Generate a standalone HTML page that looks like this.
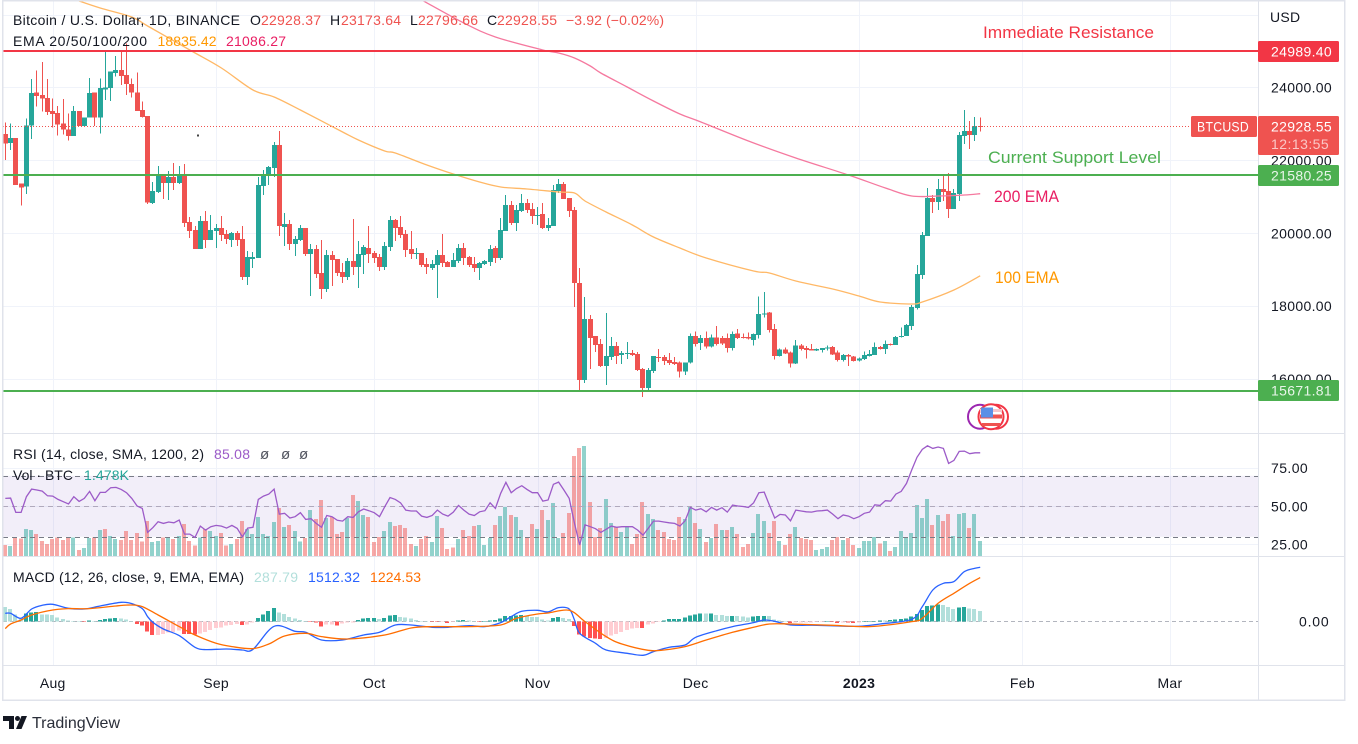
<!DOCTYPE html>
<html lang="en">
<head>
<meta charset="utf-8">
<title>BTCUSD chart</title>
<style>
html,body{margin:0;padding:0;background:#fff;width:1358px;height:744px;overflow:hidden}
svg{display:block;font-family:"Liberation Sans",sans-serif}
text{font-family:"Liberation Sans",sans-serif;fill:#131722;font-size:14px}
.lg{font-size:14px}
.ax{font-size:14px;fill:#131722;letter-spacing:.3px}
.note{font-size:17px}
</style>
</head>
<body>
<svg id="chart" xmlns="http://www.w3.org/2000/svg" width="1358" height="744" viewBox="0 0 1358 744">
  <defs>
    <clipPath id="clip-price"><rect x="3" y="1" width="1255" height="432"/></clipPath>
    <clipPath id="clip-rsi"><rect x="3" y="434" width="1255" height="122"/></clipPath>
    <clipPath id="clip-macd"><rect x="3" y="557" width="1255" height="108"/></clipPath>
  </defs>
  <g id="grid"></g>
  <g id="rsi-pane" clip-path="url(#clip-rsi)"></g>
  <g id="macd-pane" clip-path="url(#clip-macd)"></g>
  <g id="price-pane" clip-path="url(#clip-price)"></g>
  <rect x="197" y="134.5" width="2" height="2" fill="#444"/>

  <g fill="#e0e3eb">
    <rect x="2" y="0" width="1343" height="1.5"/>
    <rect x="2" y="0" width="1.5" height="701"/>
    <rect x="2" y="699.5" width="1343" height="1.5"/>
    <rect x="1344" y="0" width="1.5" height="701"/>
    <rect x="1258" y="0" width="1" height="700"/>
    <rect x="3" y="433" width="1341" height="1"/>
    <rect x="3" y="556" width="1341" height="1"/>
    <rect x="3" y="665" width="1341" height="1"/>
  </g>

  <g>
    <text class="lg" x="13" y="25" textLength="227">Bitcoin / U.S. Dollar, 1D, BINANCE</text>
    <text class="lg" x="250" y="25">O</text>
    <text class="lg" x="261" y="25" textLength="60" style="fill:#ef5350">22928.37</text>
    <text class="lg" x="330" y="25">H</text>
    <text class="lg" x="341" y="25" textLength="60" style="fill:#ef5350">23173.64</text>
    <text class="lg" x="410" y="25">L</text>
    <text class="lg" x="418" y="25" textLength="60" style="fill:#ef5350">22796.66</text>
    <text class="lg" x="487" y="25">C</text>
    <text class="lg" x="497" y="25" textLength="60" style="fill:#ef5350">22928.55</text>
    <text class="lg" x="566" y="25" textLength="98" style="fill:#ef5350">−3.92 (−0.02%)</text>
    <text class="lg" x="13" y="46" textLength="134">EMA 20/50/100/200</text>
    <text class="lg" x="157.5" y="46" textLength="59" style="fill:#ff9800">18835.42</text>
    <text class="lg" x="226" y="46" textLength="60" style="fill:#e91e63">21086.27</text>
  </g>

  <g>
    <text class="lg" x="13" y="459" textLength="191">RSI (14, close, SMA, 1200, 2)</text>
    <text class="lg" x="214" y="459" textLength="36" style="fill:#9c5bc8">85.08</text>
    <text class="lg" x="260" y="459" style="fill:#50535e;font-size:15px">ø</text>
    <text class="lg" x="281" y="459" style="fill:#50535e;font-size:15px">ø</text>
    <text class="lg" x="299" y="459" style="fill:#50535e;font-size:15px">ø</text>
    <text class="lg" x="13" y="480" textLength="60">Vol · BTC</text>
    <text class="lg" x="84" y="480" textLength="45" style="fill:#26a69a">1.478K</text>
  </g>

  <g>
    <text class="lg" x="13" y="582" textLength="231">MACD (12, 26, close, 9, EMA, EMA)</text>
    <text class="lg" x="254" y="582" textLength="44" style="fill:#b2dfdb">287.79</text>
    <text class="lg" x="308" y="582" textLength="52" style="fill:#2962ff">1512.32</text>
    <text class="lg" x="370" y="582" textLength="51" style="fill:#ff6d00">1224.53</text>
  </g>

  <g id="axes"></g>
  <text class="ax" x="1270" y="22">USD</text>

  <g>
    <text class="note" x="983" y="38" textLength="171" lengthAdjust="spacingAndGlyphs" style="fill:#f23645">Immediate Resistance</text>
    <text class="note" x="988" y="163" textLength="173" lengthAdjust="spacingAndGlyphs" style="fill:#4caf50">Current Support Level</text>
    <text class="note" x="994" y="202" textLength="65" lengthAdjust="spacingAndGlyphs" style="fill:#e91e63">200 EMA</text>
    <text class="note" x="995" y="283" textLength="64" lengthAdjust="spacingAndGlyphs" style="fill:#ff9800">100 EMA</text>
  </g>

  <g>
    <rect x="1258" y="41" width="81" height="21" rx="1.5" fill="#f23645"/>
    <text class="ax" x="1271" y="56.5" textLength="61" style="fill:#fff">24989.40</text>
    <rect x="1191" y="116" width="66" height="21" rx="1.5" fill="#ef5350"/>
    <text class="ax" x="1197" y="131.5" textLength="52" lengthAdjust="spacingAndGlyphs" style="fill:#fff">BTCUSD</text>
    <rect x="1258" y="116" width="81" height="39" rx="1.5" fill="#ef5350"/>
    <text class="ax" x="1271" y="131.5" textLength="61" style="fill:#fff">22928.55</text>
    <text class="ax" x="1271" y="149" textLength="58" style="fill:#fbc7c6">12:13:55</text>
    <rect x="1258" y="165" width="81" height="21" rx="1.5" fill="#4caf50"/>
    <text class="ax" x="1271" y="180.5" textLength="61" style="fill:#e8f5e9">21580.25</text>
    <rect x="1258" y="380" width="81" height="21" rx="1.5" fill="#4caf50"/>
    <text class="ax" x="1271" y="395.5" textLength="61" style="fill:#e8f5e9">15671.81</text>
  </g>

  <g>
    <circle cx="980" cy="416.7" r="12" fill="#fff" stroke="#9c27b0" stroke-width="2"/>
    <circle cx="996" cy="416.7" r="12" fill="#fff" stroke="#f23645" stroke-width="2"/>
    <circle cx="991" cy="416.7" r="12.5" fill="#fff" stroke="#f23645" stroke-width="2"/>
    <rect x="980" y="409" width="22" height="3" fill="#f7c6ca"/>
    <rect x="980" y="414.5" width="22" height="4" fill="#ef5350"/>
    <rect x="982" y="423" width="18" height="3" fill="#ef5350"/>
    <rect x="981" y="407.5" width="12" height="10" fill="#5b8fe6"/>
  </g>

  <g>
    <path d="M3 716h11v13h-5v-8H3z" fill="#131722"/>
    <circle cx="17.5" cy="718.5" r="2.5" fill="#131722"/>
    <path d="M21.5 716H27l-5.5 13H16z" fill="#131722"/>
    <text x="32" y="728" textLength="88" style="font-size:16px;fill:#2a2e39">TradingView</text>
  </g>
</svg>

<script>
const opens = [22725,22478,22615,21371,21280,22962,23867,23794,23712,23355,
23300,23017,22853,22670,23355,22944,23182,23867,23173,23950,
23986,24398,24480,24343,24096,23858,23383,23218,20832,21133,
21572,21380,21545,21380,21572,20310,20091,19570,20338,19817,
20064,20146,19981,19817,20009,19844,18802,19295,19323,21298,
21600,21792,22422,20173,20255,19707,19817,20146,19433,19570,
18911,18473,19405,19295,18939,18802,19240,19076,19405,19597,
19460,19350,19076,19625,20365,20173,19981,19570,19432,19460,
19158,19049,19131,19405,19213,19076,19240,19597,19350,19158,
19049,19158,19213,19597,19323,20063,20776,20283,20612,20831,
20667,20475,20530,20146,20200,21161,21353,20968,20639,18637,
15976,17650,17183,16964,16360,16607,16909,16662,16690,16717,
16690,16278,15757,16223,16607,16607,16525,16470,16452,16205,
16452,17184,16991,17129,16891,17147,17129,17129,16855,17257,
17156,17156,17074,17211,17787,17824,17376,16635,16818,16736,
16434,16928,16855,16827,16781,16800,16846,16882,16736,16526,
16663,16626,16507,16553,16635,16663,16882,16827,16964,16937,
17156,17184,17458,17952,18857,19927,20969,20859,21216,21161,
20667,21079,22670,22807,22697,22940];
const highs = [23035,23017,22615,21371,23154,24233,24462,24699,24233,23703,
23493,23684,23291,23493,23355,23182,24260,23867,24251,24983,
24443,24864,25029,25211,24251,24416,23611,23218,21408,21846,
21572,21709,21929,21846,21901,20447,20201,20475,20612,20502,
20255,20475,20091,20036,20064,20201,19515,19487,21545,21737,
21846,22505,22806,20557,20365,19926,20228,20146,19707,19680,
19817,19542,19515,19295,19186,19323,20392,19789,19679,20200,
19515,19432,19762,20475,20392,20475,20091,20063,19597,19460,
19323,19268,19542,19981,19240,19460,19707,19734,19378,19350,
19213,19268,19679,19652,20420,21051,20886,20776,21078,20941,
20831,20722,20831,20420,21325,21490,21407,20968,20722,19048,
18253,17759,17183,17101,17814,17156,17019,16772,17019,16799,
16744,16305,16305,16635,16827,16662,16717,16607,16480,16461,
17257,17303,17211,17303,17230,17458,17184,17257,17303,17376,
17257,17284,17257,18263,18390,17842,17513,16846,16873,16754,
17074,16964,16910,16964,16846,16855,16928,16910,16782,16690,
16690,16635,16599,16754,16800,17010,16910,17056,16983,17184,
17421,17513,18034,19131,20036,21243,21051,21490,21627,21655,
21216,22779,23383,23081,23191,23173.64];
const lows = [22011,22286,21326,20759,21079,22587,23474,23337,23246,22907,
22679,22715,22542,22670,22944,22944,23182,22944,22743,23657,
23630,24297,24069,23794,23721,23355,23182,20804,20804,21106,
20941,20914,21188,21353,20173,19872,19570,19570,19597,19817,
19597,19789,19707,19625,19652,18720,18582,19049,19323,21051,
21325,21545,19926,19652,19542,19378,19789,19378,18281,18774,
18198,18390,18555,18829,18637,18720,18857,18500,18884,19186,
19186,18966,18994,19515,19789,19871,19350,19295,19295,19076,
18884,18994,18226,19076,19076,19076,19186,19131,19076,18939,
18719,19131,19103,19186,19268,20063,20228,20063,20585,20557,
20255,20228,20118,20063,20200,21106,20941,20447,17979,15702,
15894,16278,16744,16333,15839,16525,16415,16415,16552,16635,
16223,15510,15647,16168,16470,16388,16388,16388,16041,16114,
16434,16891,16800,16845,16873,16919,16937,16727,16781,17101,
17110,17092,16919,17120,17696,17284,16544,16617,16690,16315,
16416,16781,16571,16781,16772,16727,16781,16663,16480,16489,
16361,16480,16480,16526,16617,16663,16818,16690,16928,16937,
17147,17184,17348,17915,18747,19927,20557,20640,20887,20420,
20667,20887,22450,22313,22532,22796.66];
const closes = [22459,22615,21326,21253,22962,23849,23767,23694,23328,23273,
22980,22843,22670,23355,22944,23182,23849,23173,23986,24004,
24443,24480,24315,24096,23858,23355,23191,20841,21161,21572,
21380,21545,21380,21572,20283,20064,19570,20338,19817,20091,
20146,19954,19844,20009,19817,18802,19350,19350,21325,21627,
21819,22422,20201,20255,19707,19844,20146,19433,19570,18884,
18473,19405,19268,18911,18802,19241,19076,19432,19625,19432,
19323,19076,19652,20365,20146,19954,19542,19432,19460,19131,
19076,19158,19405,19186,19076,19268,19597,19323,19131,19049,
19186,19240,19570,19323,20091,20776,20283,20639,20831,20639,
20475,20502,20146,20228,21188,21353,20941,20612,18637,15976,
17650,17128,16936,16360,16635,16909,16635,16717,16717,16662,
16251,15757,16251,16635,16580,16498,16443,16415,16205,16461,
17184,16964,17129,16891,17147,16964,16983,16855,17239,17129,
17129,17110,17239,17787,17805,17348,16635,16818,16708,16434,
16928,16827,16800,16781,16827,16855,16873,16681,16526,16663,
16626,16498,16571,16663,16690,16882,16827,16964,16937,17156,
17184,17485,17979,18884,19954,20969,20859,21216,21134,20667,
21106,22697,22807,22697,22944,22928.55];

const ema100Days = [14,18,24,27,35,41,47,51,56,64,67,72,74,80,85,90,94,99,105,108,110,114,119,123,128,133,142,145,150,157,162,166,172,174,180,185];
const ema100Values = [26373,26181,25934,25687,25029,24535,23931,23739,23383,22779,22560,22258,22203,21874,21627,21408,21271,21216,21133,21106,20887,20585,20228,19899,19597,19323,18967,18912,18692,18473,18281,18116,18061,18116,18445,18835.42];
const ema200Days = [79,87,93,102,105,108,111,113,118,123,128,132,141,150,160,167,172,177,182,185];
const ema200Values = [26400,25769,25385,25029,24946,24809,24590,24398,24014,23630,23273,23054,22532,22066,21600,21243,21024,21024,21051,21086.27];

const levelPrices = [24989.40,21580.25,15671.81];
const levelColors = ['#f23645','#4caf50','#4caf50'];
const levelNames = ['resistance-line','support-line','low-support-line'];
const lastPrice = 22928.55;

const priceTicks = [24000,22000,20000,18000,16000];
const priceTickLabels = ['24000.00','22000.00','20000.00','18000.00','16000.00'];
const priceExtraGrid = [26000];
const rsiTicks = [75,50,25];
const rsiTickLabels = ['75.00','50.00','25.00'];
const rsiBands = [70,50,30];
const macdTicks = [0];
const macdTickLabels = ['0.00'];
const timeTickDays = [9,40,70,101,131,162,193,221];
const timeTickLabels = ['Aug','Sep','Oct','Nov','Dec','2023','Feb','Mar'];

const rsiValues = [55.2,55.4,46,46,56.3,61.3,60.7,60,56.9,56.7,
54.5,53,51.5,56.3,53.2,55.2,59.8,53.7,59.1,59.1,
62.2,62.4,61.1,58.9,55.2,50.2,48.6,32.9,36,39.9,
38.8,39.7,39.2,41,31.8,31.8,29.6,37,34.4,36.6,
37.5,37,35.7,37.5,35.5,30,35.7,36.2,54.5,56.7,
58,61.3,44.9,45.4,42.3,43.2,45.8,41.4,41.9,38.8,
36.2,44,43.2,40.8,40.3,43.2,42.7,46.4,48.2,47.1,
45.8,43.2,49.7,55.8,54.5,52.3,47.5,46.9,46.9,43.6,
42.7,44,47.5,44.9,43.6,46.2,50.6,47.5,44.9,44,
46.4,47.1,52.3,48.6,58.5,65.7,58.9,61.7,63.5,61.1,
58.9,58.9,53.4,54.1,64.4,65.9,60.7,55.2,38.8,24.6,
37.9,36.6,35.3,32.9,34.9,37,36.2,36.6,36.6,36.6,
34.4,31.1,35.5,40.3,40.3,39.7,39.2,38.8,37,40.5,
49.3,47.5,48.4,46.4,49.3,47.5,49.1,46.2,50.8,50.2,
49.9,49.3,52.3,58.9,59.3,50.8,42.3,44.7,44.3,40.5,
47.5,46.9,46.4,46.2,46.9,47.1,47.5,44.9,41.9,44.3,
43.6,41.9,43.2,45.4,46.2,51,50.6,53.7,53.4,58,
59.8,65,73.8,82.1,87.3,89.7,88,88.9,88,78.1,
80.1,86,86.2,84.5,85.1,85.08];

const volumeValues = [1089,990,1848,1716,2673,2574,2178,1485,1188,1683,
1848,1584,1848,1848,594,792,1782,1848,2574,2673,
1980,1683,1584,2475,1584,2277,1419,3465,1386,1485,
1848,1848,1683,1980,3168,1485,1023,1848,2673,2475,
1980,2277,1023,1188,1683,3465,2673,2178,3861,2178,
1980,3366,4752,2871,3069,2475,1419,1782,4554,3663,
5544,3762,3861,2178,2376,3762,6039,5445,4059,3861,
1386,1881,2475,3366,2970,3069,2772,1188,990,1683,
1980,1386,3960,2772,693,858,1683,2574,1980,2970,
3069,1089,1782,3069,3960,4851,4059,3861,2574,1782,
3168,2673,4554,3564,5247,1782,2277,4257,9900,10692,
10890,5346,1881,2772,5643,3267,2871,2376,2871,1188,
2178,5346,4158,3663,2574,2376,1683,1584,3861,3663,
4950,3267,2673,1386,1782,3168,2574,2574,2871,2178,
891,1188,2277,4158,3465,2277,3465,1485,1089,2178,
2871,1782,1683,1584,594,693,891,1584,1881,1584,
1782,1089,792,1485,1485,1881,1254,1485,495,891,
2475,1881,2277,5049,3762,5643,3069,4059,3465,4158,
1980,4158,4257,2772,4158,1478];
const volumeDirections = ['rgrrggrrrr','rrrgrggrgr','ggrrrrrrgg','rgrgrrrgrg','grrgrrgggg',
'ggrgrggrgr','rgrrrgrggr','rrggrrrrgr','rggrrrgrrr','gggrggrggr',
'rgrgggrrrr','grrrggrggr','rrggrrrrrg','grgrgrgrgr','rrgggrrgrr',
'grrrgggrrg','rrggggrgrg','ggggggrgrr','gggrgg'].join('');

const macdDays = [0,1,3,5,7,9,12,15,18,22,24,26,27,28,30,33,36,38,42,45,47,51,55,57,60,64,68,71,74,77,81,84,88,91,94,96,98,101,103,105,107,108,109,112,114,118,121,123,126,129,131,135,138,142,144,146,149,154,158,162,166,172,174,176,178,180,182,184,185];
const macdValues = [224,224,84,346,448,476,364,346,430,532,495,355,131,-28,-215,-402,-729,-794,-775,-803,-785,-140,-280,-308,-523,-523,-383,-308,-103,-103,-168,-168,-121,-149,-37,131,280,308,262,383,346,37,-336,-616,-803,-897,-953,-850,-729,-663,-448,-262,-149,-37,37,0,-103,-112,-131,-140,-75,56,411,878,1065,1111,1392,1485,1512.32];
const signalDays = [0,1,3,5,9,12,16,21,24,26,29,33,36,40,43,47,50,53,57,60,65,72,77,81,88,94,97,101,103,107,110,114,117,122,125,129,133,138,142,145,149,157,164,172,174,177,180,183,185];
const signalValues = [-205,-75,37,177,318,355,355,430,458,411,177,-149,-383,-616,-710,-766,-635,-411,-336,-430,-495,-383,-187,-149,-149,-103,84,205,233,308,-9,-430,-635,-813,-803,-710,-523,-308,-168,-75,-75,-112,-149,-9,84,504,785,1065,1224.53];
const histValues = [402,346,196,103,224,252,262,196,196,177,
112,65,19,9,0,-19,28,9,37,65,
84,93,84,56,0,-75,-121,-290,-383,-383,
-355,-318,-299,-262,-355,-360,-365,-336,-299,-243,
-187,-168,-121,-103,-75,-103,-84,-37,93,196,
290,374,252,205,121,75,37,9,-19,-37,
-149,-93,-90,-112,-56,-37,-28,37,75,93,
95,65,93,159,177,121,103,75,37,9,
0,-9,-12,-9,-47,-9,19,37,19,0,
-19,0,28,30,84,149,151,159,177,149,
121,119,56,28,93,121,93,65,-131,-374,
-430,-467,-486,-495,-467,-392,-355,-299,-243,-196,
-187,-190,-93,-65,-9,19,65,67,70,103,
159,196,215,213,216,177,175,149,152,149,
131,112,131,149,151,149,56,19,0,-47,
-37,-35,-33,-30,-19,-9,0,-19,-47,-28,
-37,-47,-37,0,5,9,28,26,30,56,
58,75,131,205,318,430,448,467,458,402,
346,392,395,364,346,287.79];

const NS = 'http://www.w3.org/2000/svg';
const xDay = d => 5.3 + 5.27 * d;
const yPrice = p => (26400 - p) / 27.43;
const yRsi = r => 506.3 - (r - 50) * 1.525;
const yVolume = v => 556 - v / 99;
const yMacd = v => 621.3 - v / 28.02;

const gridG = document.getElementById('grid');
const priceG = document.getElementById('price-pane');
const rsiG = document.getElementById('rsi-pane');
const macdG = document.getElementById('macd-pane');
const axesG = document.getElementById('axes');

function mk(tag, parent, attrs) {
  const e = document.createElementNS(NS, tag);
  for (const k in attrs) e.setAttribute(k, attrs[k]);
  parent.appendChild(e);
  return e;
}

// vertical and horizontal grid
timeTickDays.forEach((d, i) => {
  const line = mk('rect', gridG, {x: Math.round(xDay(d)), y: 1, width: 1, height: 664, fill: '#f0f3fa'});
  
  
  const label = mk('text', axesG, {x: xDay(d), y: 688, 'text-anchor': 'middle', class: 'ax'});
  
  
  label.textContent = timeTickLabels[i];
  if (timeTickLabels[i] === '2023') label.setAttribute('font-weight', 'bold');
});
priceExtraGrid.concat(priceTicks).forEach(p => {
  const line = mk('rect', gridG, {x: 3, y: Math.round(yPrice(p)), width: 1255, height: 1, fill: '#f0f3fa'});
  
  
});
priceTicks.forEach((p, i) => {
  const label = mk('text', axesG, {x: 1271, y: yPrice(p) + 5, class: 'ax', textLength: 61});
  
  
  label.textContent = priceTickLabels[i];
});
rsiTicks.forEach((r, i) => {
  const line = mk('rect', gridG, {x: 3, y: Math.round(yRsi(r)), width: 1255, height: 1, fill: '#f0f3fa'});
  
  
  const label = mk('text', axesG, {x: 1271, y: yRsi(r) + 5, class: 'ax', textLength: 37});
  
  
  label.textContent = rsiTickLabels[i];
});
macdTicks.forEach((m, i) => {
  const line = mk('line', macdG, {x1: 3, x2: 1258, y1: Math.round(yMacd(m)) + .5, y2: Math.round(yMacd(m)) + .5, stroke: '#b2b5be', 'stroke-width': 1, 'stroke-dasharray': '4 3'});
  
  
  const label = mk('text', axesG, {x: 1299, y: yMacd(m) + 5, class: 'ax', textLength: 30});
  
  
  label.textContent = macdTickLabels[i];
});

// candles
closes.forEach((c, i) => {
  const col = c >= opens[i] ? '#26a69a' : '#ef5350';
  const cx = Math.floor(xDay(i));
  const wick = mk('rect', priceG, {x: cx, y: yPrice(highs[i]), width: 1, height: Math.max(1, yPrice(lows[i]) - yPrice(highs[i])), fill: col, 'shape-rendering': 'crispEdges'});
  
  
  const top = Math.min(yPrice(opens[i]), yPrice(c));
  const h = Math.abs(yPrice(opens[i]) - yPrice(c));
  const body = mk('rect', priceG, {x: cx - 2, y: top, width: 5, height: Math.max(1, h), fill: col, 'shape-rendering': 'crispEdges'});
  
  
});

// smooth curve through the read values (Catmull-Rom)
function smoothPath(days, values, yf) {
  const pts = days.map((d, i) => [xDay(d), yf(values[i])]);
  let d = 'M' + pts[0][0].toFixed(1) + ' ' + pts[0][1].toFixed(1);
  for (let i = 0; i < pts.length - 1; i++) {
    const p0 = pts[Math.max(0, i - 1)], p1 = pts[i], p2 = pts[i + 1], p3 = pts[Math.min(pts.length - 1, i + 2)];
    const c1x = p1[0] + (p2[0] - p0[0]) / 6, c1y = p1[1] + (p2[1] - p0[1]) / 6;
    const c2x = p2[0] - (p3[0] - p1[0]) / 6, c2y = p2[1] - (p3[1] - p1[1]) / 6;
    d += 'C' + c1x.toFixed(1) + ' ' + c1y.toFixed(1) + ' ' + c2x.toFixed(1) + ' ' + c2y.toFixed(1) + ' ' + p2[0].toFixed(1) + ' ' + p2[1].toFixed(1);
  }
  return d;
}

// EMA lines
const ema100Line = mk('path', priceG, {d: smoothPath(ema100Days, ema100Values, yPrice), fill: 'none', stroke: '#ffb866', 'stroke-width': 1.3});


const ema200Line = mk('path', priceG, {d: smoothPath(ema200Days, ema200Values, yPrice), fill: 'none', stroke: '#f5799f', 'stroke-width': 1.3});



// last price dotted line
const lastLine = mk('line', priceG, {x1: 3, x2: 1191, y1: Math.floor(yPrice(lastPrice)) + .5, y2: Math.floor(yPrice(lastPrice)) + .5, stroke: '#ef5350', 'stroke-width': 1, 'stroke-dasharray': '1 2'});



// horizontal levels
levelPrices.forEach((p, i) => {
  const lvl = mk('rect', priceG, {x: 3, y: Math.round(yPrice(p) - 1.6), width: 1255, height: 2, fill: levelColors[i]});
  
  
});

// RSI pane
const band = mk('rect', rsiG, {x: 3, y: yRsi(rsiBands[0]), width: 1255, height: yRsi(rsiBands[2]) - yRsi(rsiBands[0]), fill: 'rgba(126,87,194,.1)'});



volumeValues.forEach((v, i) => {
  const green = volumeDirections[i] === 'g';
  const bar = mk('rect', rsiG, {x: Math.floor(xDay(i)) - 2, y: yVolume(v), width: 4, height: 556 - yVolume(v), fill: green ? 'rgba(38,166,154,.5)' : 'rgba(239,83,80,.5)', 'shape-rendering': 'crispEdges'});
  
  
});

rsiBands.forEach((r, i) => {
  const y = Math.round(yRsi(r)) + .5;
  const dash = mk('line', rsiG, {x1: 3, x2: 1258, y1: y, y2: y, stroke: i === 1 ? '#b0a9bc' : '#787b86', 'stroke-width': 1, 'stroke-dasharray': '5 4'});
  
  
});

const rsiPath = mk('polyline', rsiG, {points: rsiValues.map((r, i) => xDay(i).toFixed(1) + ',' + yRsi(r).toFixed(1)).join(' '), fill: 'none', stroke: '#9c5bc8', 'stroke-width': 1.3});



// MACD pane
histValues.forEach((h, i) => {
  const prev = i ? histValues[i - 1] : 1e9;
  const col = h >= 0 ? (h > prev ? '#26a69a' : '#b2dfdb') : (h < prev ? '#ff5252' : '#ffcdd2');
  const y0 = yMacd(0), y1 = yMacd(h);
  const bar = mk('rect', macdG, {x: Math.floor(xDay(i)) - 2, y: Math.min(y0, y1), width: 4, height: Math.max(.6, Math.abs(y1 - y0)), fill: col, 'shape-rendering': 'crispEdges'});
  
  
});
const macdPath = mk('path', macdG, {d: smoothPath(macdDays, macdValues, yMacd), fill: 'none', stroke: '#2962ff', 'stroke-width': 1.3});


const signalPath = mk('path', macdG, {d: smoothPath(signalDays, signalValues, yMacd), fill: 'none', stroke: '#ff6d00', 'stroke-width': 1.3});


</script>
</body>
</html>
